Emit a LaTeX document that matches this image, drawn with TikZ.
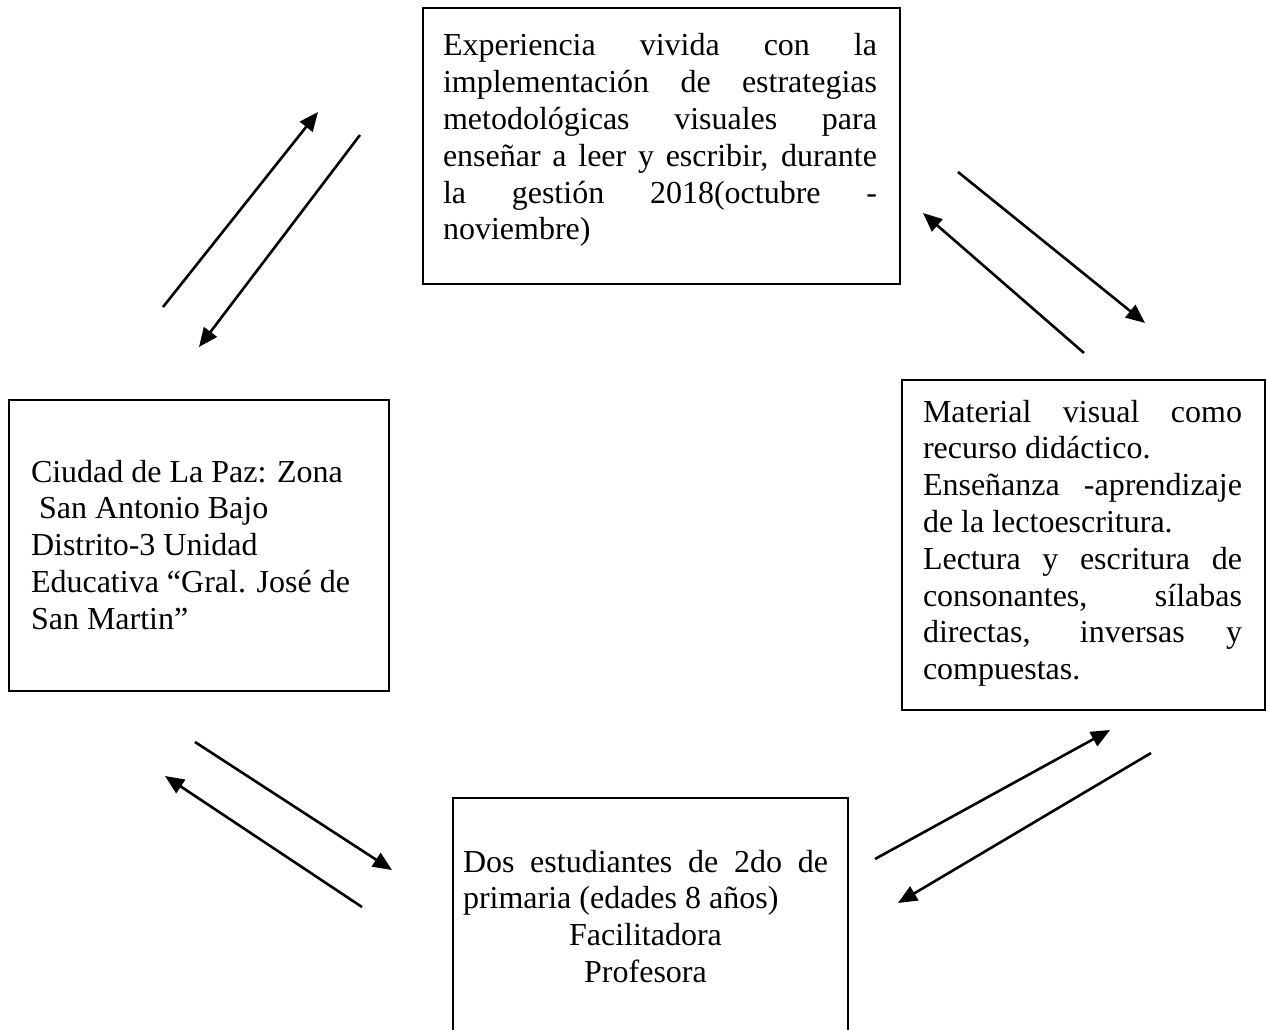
\documentclass[tikz,border=0pt]{standalone}
\usepackage{fontspec}
\setmainfont{Liberation Serif}
\usetikzlibrary{arrows.meta}
\newcommand{\jline}[1]{\makebox[\linewidth][s]{#1}}
\newcommand{\cenline}[1]{\makebox[\linewidth][c]{#1}}
\begin{document}
\begin{tikzpicture}[x=1pt,y=-1pt,
  box/.style={draw=black, line width=2.6pt, inner sep=0pt, outer sep=0pt, anchor=north west},
  txt/.style={inner sep=0pt, outer sep=0pt, anchor=base west, font=\fontsize{32}{36.8}\selectfont},
  link/.style={line width=2.6pt, -{Triangle[length=19pt,width=16pt]}}]
\useasboundingbox (0,0) rectangle (1266,1030);
\clip (0,0) rectangle (1266,1030);
\fill[white] (0,0) rectangle (1266,1030);
% boxes
\node[box, minimum width=477pt, minimum height=276pt] (top) at (423,8) {};
\node[box, minimum width=380pt, minimum height=291pt] (left) at (9,400) {};
\node[box, minimum width=363pt, minimum height=330pt] (right) at (902,380) {};
\node[box, minimum width=395pt, minimum height=245pt] (bottom) at (453,798) {};
% texts
\node[txt] (toptext) at (443,56) {\parbox[t]{434pt}{%
\jline{Experiencia vivida con la}\\
\jline{implementación de estrategias}\\
\jline{metodológicas visuales para}\\
\jline{enseñar a leer y escribir, durante}\\
\jline{la gestión 2018(octubre -}\\
noviembre)}};
\node[txt] (lefttext) at (31,482) {\parbox[t]{350pt}{%
Ciudad de La Paz: Zona\\
\hspace*{8pt}San Antonio Bajo\\
Distrito-3 Unidad\\
Educativa “Gral. José de\\
San Martin”}};
\node[txt] (righttext) at (923,422) {\parbox[t]{319pt}{%
\jline{Material visual como}\\
recurso didáctico.\\
\jline{Enseñanza -aprendizaje}\\
de la lectoescritura.\\
\jline{Lectura y escritura de}\\
\jline{consonantes, sílabas}\\
\jline{directas, inversas y}\\
compuestas.}};
\node[txt] (bottomtext) at (463,872) {\parbox[t]{365pt}{%
\jline{Dos estudiantes de 2do de}\\
primaria (edades 8 años)\\
\cenline{Facilitadora}\\
\cenline{Profesora}}};
% connector end points
\coordinate (a1s) at (163,307); \coordinate (a1e) at (318,112);
\coordinate (a2s) at (360,135); \coordinate (a2e) at (199,347);
\coordinate (a3s) at (958,172); \coordinate (a3e) at (1145,323);
\coordinate (a4s) at (1084,353); \coordinate (a4e) at (923,213);
\coordinate (a5s) at (195,742); \coordinate (a5e) at (392,870);
\coordinate (a6s) at (362,907); \coordinate (a6e) at (165,776);
\coordinate (a7s) at (875,859); \coordinate (a7e) at (1110,730);
\coordinate (a8s) at (1151,753); \coordinate (a8e) at (898,903);
\draw[link] (a1s) -- (a1e);
\draw[link] (a2s) -- (a2e);
\draw[link] (a3s) -- (a3e);
\draw[link] (a4s) -- (a4e);
\draw[link] (a5s) -- (a5e);
\draw[link] (a6s) -- (a6e);
\draw[link] (a7s) -- (a7e);
\draw[link] (a8s) -- (a8e);
\end{tikzpicture}
\end{document}
